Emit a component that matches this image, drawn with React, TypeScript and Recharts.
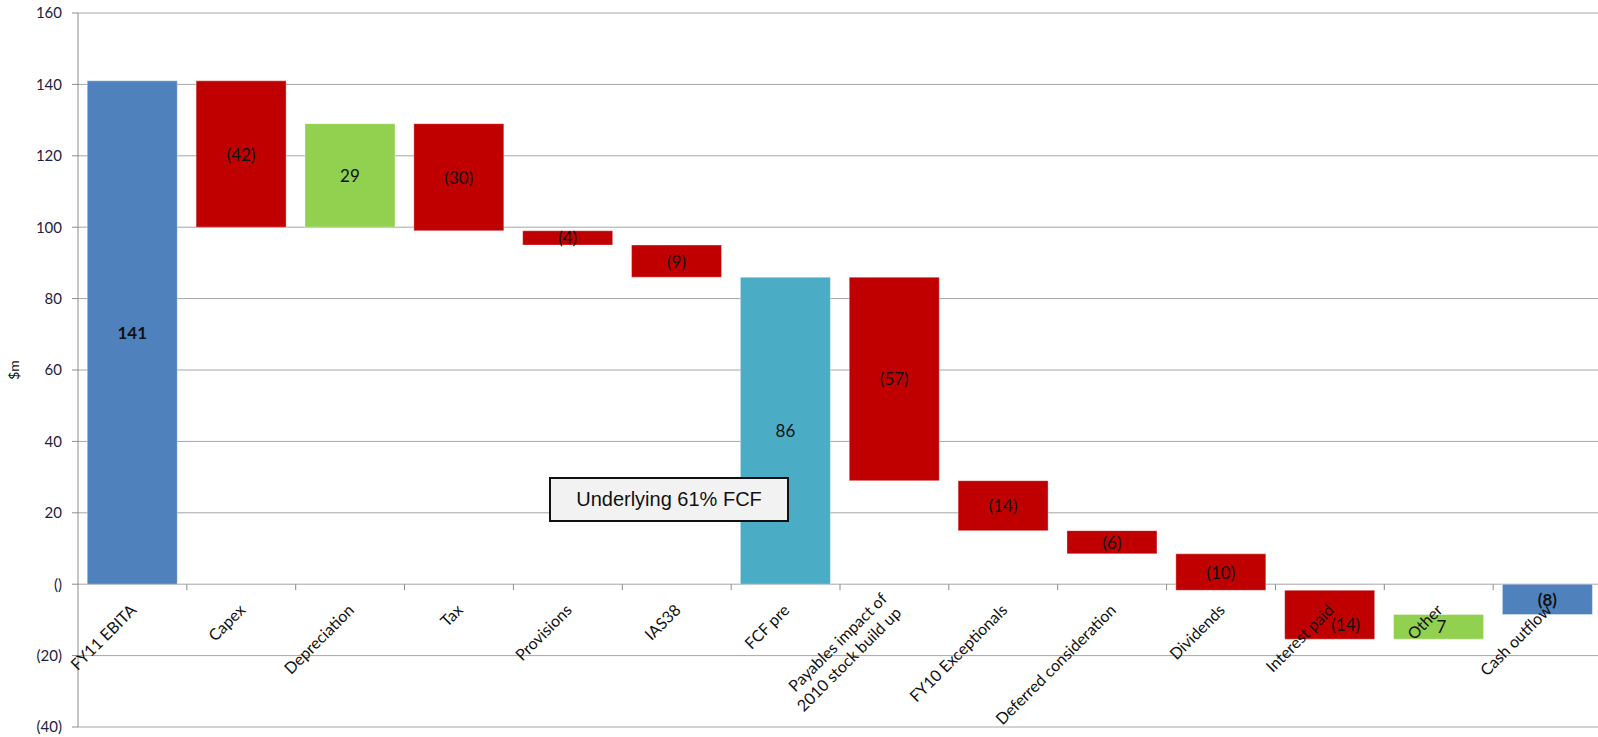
import React from 'react';
import { BarChart, Bar, XAxis, YAxis, CartesianGrid, Cell, LabelList } from 'recharts';

// Waterfall steps ($m)
const categories = [
  'FY11 EBITA',
  'Capex',
  'Depreciation',
  'Tax',
  'Provisions',
  'IAS38',
  'FCF pre',
  'Payables impact of\n2010 stock build up',
  'FY10 Exceptionals',
  'Deferred consideration',
  'Dividends',
  'Interest paid',
  'Other',
  'Cash outflow',
];
const barStart = [0, 141, 100, 129, 99, 95, 0, 86, 29, 15, 8.5, -1.7, -15.4, 0];
const barEnd = [141, 100, 129, 99, 95, 86, 86, 29, 15, 8.5, -1.7, -15.4, -8.5, -8.5];
const shownValues = [141, -42, 29, -30, -4, -9, 86, -57, -14, -6, -10, -14, 7, -8];
const barKinds = ['total', 'down', 'up', 'down', 'down', 'down', 'subtotal', 'down', 'down', 'down', 'down', 'down', 'up', 'total'];
const yTicks = [-40, -20, 0, 20, 40, 60, 80, 100, 120, 140, 160];

const kindColors: Record<string, string> = {
  total: '#4F81BD',
  subtotal: '#4BACC6',
  down: '#C00000',
  up: '#92D050',
};

const CHART_W = 1598;
const CHART_H = 737;
// plot area runs a few px past the right edge in the original
const MARGIN = { top: 13, right: -4, bottom: 0, left: 0 };
const Y_AXIS_W = 78;
const X_AXIS_H = 10;
const Y_MIN = -40;
const Y_MAX = 160;
const PLOT_W = CHART_W - MARGIN.left - MARGIN.right - Y_AXIS_W;
const PLOT_H = CHART_H - MARGIN.top - MARGIN.bottom - X_AXIS_H;
const ZERO_Y = MARGIN.top + ((Y_MAX - 0) / (Y_MAX - Y_MIN)) * PLOT_H;

const FONT = 'Lato, "Open Sans", sans-serif';

// a couple of labels in the original are nudged off-centre
const labelNudge: Record<number, [number, number]> = { 11: [16, 10], 12: [3, 0] };

const data = categories.map((name, i) => ({
  name,
  range: [barStart[i], barEnd[i]],
  shown: shownValues[i],
  kind: barKinds[i],
}));

const fmt = (v: number) => (v === 0 ? '()' : v < 0 ? `(${-v})` : `${v}`);

// category labels sit on the zero line, Excel style, with ticks between categories
const CategoryTick = (props: any) => {
  const { x, payload, index } = props;
  const lines = String(payload.value).split('\n');
  const bw = PLOT_W / categories.length;
  const multi = lines.length > 1;
  return (
    <g>
      {index > 0 && (
        <line x1={x - bw / 2} x2={x - bw / 2} y1={ZERO_Y} y2={ZERO_Y + 6} stroke="#8C8C8C" />
      )}
      <g transform={`translate(${x + 5},${ZERO_Y + 27}) rotate(-45)`}>
        {lines.map((l, i) => (
          <text
            key={i}
            x={0}
            y={(i - (lines.length - 1)) * 20 + (multi ? 4 : 0)}
            textAnchor="end"
            fontSize={16}
            fontFamily={FONT}
            fill="#111"
          >
            {l}
          </text>
        ))}
      </g>
    </g>
  );
};

const ValueLabel = (props: any) => {
  const { x, y, width, height, index } = props;
  const kind = barKinds[index];
  const bold = kind === 'total';
  const [dx, dy] = labelNudge[index] || [0, 0];
  return (
    <text
      x={x + width / 2 + dx}
      y={y + height / 2 + dy}
      textAnchor="middle"
      dominantBaseline="central"
      fontSize={17}
      fontFamily={FONT}
      fontWeight={bold ? 700 : 400}
      fill="#111"
    >
      {fmt(shownValues[index])}
    </text>
  );
};

const YLabel = () => {
  const cx = 13;
  const cy = MARGIN.top + PLOT_H / 2;
  return (
    <text x={cx} y={cy} transform={`rotate(-90 ${cx} ${cy})`} textAnchor="middle" dominantBaseline="central" fontSize={14} fontFamily={FONT} fill="#111">
      $m
    </text>
  );
};

export default function App() {
  return (
    <div style={{ position: 'absolute', left: 0, top: 0, width: CHART_W, height: CHART_H, background: '#fff', overflow: 'hidden' }}>
      <BarChart width={CHART_W} height={CHART_H} data={data} margin={MARGIN} barCategoryGap="8.5%">
        <CartesianGrid vertical={false} stroke="#A6A6A6" />
        <XAxis
          dataKey="name"
          interval={0}
          axisLine={false}
          tickLine={false}
          height={X_AXIS_H}
          tick={<CategoryTick />}
        />
        <YAxis
          width={Y_AXIS_W}
          domain={[Y_MIN, Y_MAX]}
          ticks={yTicks}
          tickFormatter={fmt}
          axisLine={{ stroke: '#8C8C8C' }}
          tickLine={{ stroke: '#8C8C8C' }}
          tickSize={6}
          tickMargin={10}
          tick={{ fontSize: 15, fontFamily: FONT, fill: '#1F2040' }}
          label={{ content: <YLabel /> }}
        />
        <Bar dataKey="range" isAnimationActive={false} stroke="rgba(255,255,255,0.35)" strokeWidth={1}>
          {data.map((d, i) => (
            <Cell key={i} fill={kindColors[d.kind]} />
          ))}
          <LabelList dataKey="shown" content={<ValueLabel />} />
        </Bar>
      </BarChart>
      <div
        style={{
          position: 'absolute',
          left: 549,
          top: 477,
          width: 240,
          height: 45,
          boxSizing: 'border-box',
          border: '2px solid #111',
          background: '#F2F2F2',
          display: 'flex',
          alignItems: 'center',
          justifyContent: 'center',
          fontFamily: '"Liberation Sans", Arial, sans-serif',
          fontSize: 20,
          color: '#111',
        }}
      >
        Underlying 61% FCF
      </div>
    </div>
  );
}
